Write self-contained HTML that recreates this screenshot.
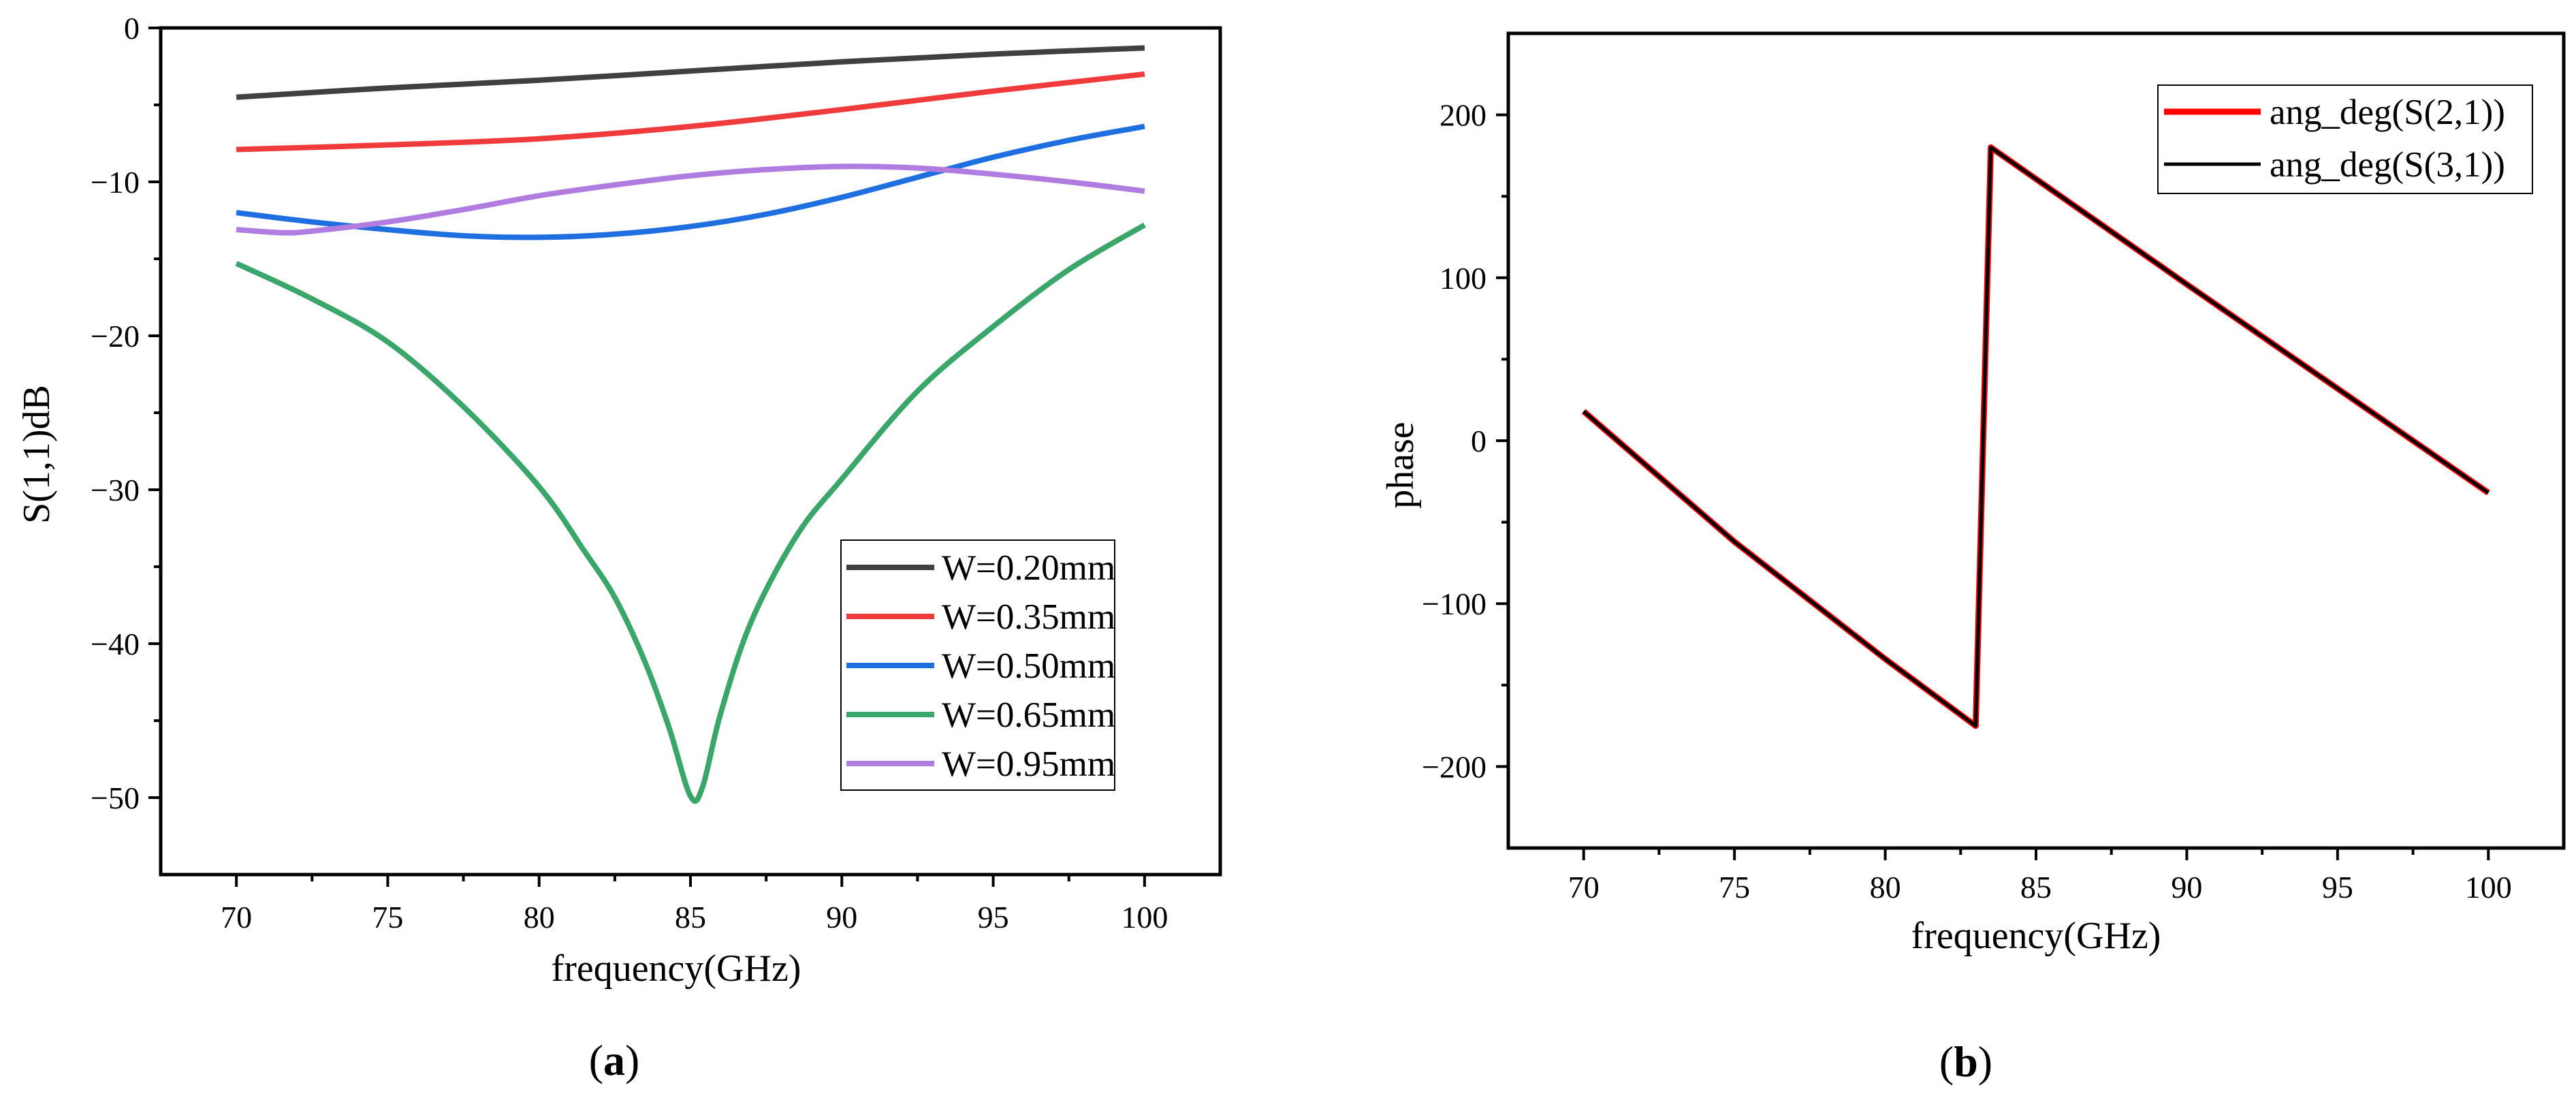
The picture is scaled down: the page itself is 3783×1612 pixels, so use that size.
<!DOCTYPE html>
<html><head><meta charset="utf-8"><style>
html,body{margin:0;padding:0;background:#fff;}
svg{display:block;font-family:"Liberation Serif",serif;}
</style></head><body>
<svg id="fig" width="3783" height="1612" viewBox="0 0 3783 1612" xmlns="http://www.w3.org/2000/svg">
<g id="chartA"></g>
<g id="chartB"></g>
<text x="902" y="1578" font-size="64" text-anchor="middle">(<tspan font-weight="bold">a</tspan>)</text>
<text x="2887" y="1580" font-size="64" text-anchor="middle">(<tspan font-weight="bold">b</tspan>)</text>
</svg>
<script>
// ---- Chart A data ----
const seriesNames = ["W=0.20mm","W=0.35mm","W=0.50mm","W=0.65mm","W=0.95mm"];
const freqW020 = [70,75,80,85,90,95,100];
const valsW020 = [-4.5,-3.9,-3.4,-2.8,-2.2,-1.7,-1.3];
const freqW035 = [70,75,80,85,90,95,100];
const valsW035 = [-7.9,-7.6,-7.2,-6.4,-5.3,-4.1,-3.0];
const freqW050 = [70,72.5,75,77.5,80,82.5,85,87.5,90,92.5,95,97.5,100];
const valsW050 = [-12.0,-12.6,-13.1,-13.5,-13.6,-13.4,-12.9,-12.1,-11.0,-9.7,-8.4,-7.3,-6.4];
const freqW065 = [70,72.5,75,77.5,80,81.5,82.5,83.5,84.3,85,85.4,86,87,88.5,90,92.5,95,97.5,100];
const valsW065 = [-15.3,-17.6,-20.4,-24.6,-29.8,-34,-37,-41.2,-45.5,-49.9,-49.3,-44.5,-38.6,-33,-29.3,-23.6,-19.4,-15.7,-12.8];
const freqW095 = [70,71.5,72.5,75,77.5,80,82.5,85,87.5,90,92.5,95,97.5,100];
const valsW095 = [-13.1,-13.3,-13.2,-12.6,-11.8,-10.9,-10.2,-9.6,-9.2,-9.0,-9.1,-9.5,-10.0,-10.6];
const xTicksA = [70,75,80,85,90,95,100];
const yTicksA = [0,-10,-20,-30,-40,-50];
const yTickLabelsA = ["0","\u221210","\u221220","\u221230","\u221240","\u221250"];
// ---- Chart B data ----
const phaseNames = ["ang_deg(S(2,1))","ang_deg(S(3,1))"];
const freqS21 = [70,75,80,83,83.5,90,95,100];
const phaseS21 = [18,-62,-134,-175,180,96,32,-32];
const freqS31 = [70,75,80,83,83.5,90,95,100];
const phaseS31 = [18,-62,-134,-175,180,96,32,-32];
const xTicksB = [70,75,80,85,90,95,100];
const yTicksB = [200,100,0,-100,-200];
const yTickLabelsB = ["200","100","0","\u2212100","\u2212200"];

const NS="http://www.w3.org/2000/svg";
function mk(parent,tag,attrs,name){const e=document.createElementNS(NS,tag);for(const k in attrs)e.setAttribute(k,attrs[k]);


parent.appendChild(e);return e;}

function axes(g,box,xr,yr,xt,xmin,yt,ylab,ymin,xtitle,ytitle,xtY,ytX){
  const sx=v=>box.l+(v-xr[0])/(xr[1]-xr[0])*(box.r-box.l);
  const sy=v=>box.t+(yr[1]-v)/(yr[1]-yr[0])*(box.b-box.t);
  mk(g,'rect',{x:box.l,y:box.t,width:box.r-box.l,height:box.b-box.t,fill:'none',stroke:'#000','stroke-width':5},'plot-frame');
  xt.forEach(v=>{mk(g,'line',{x1:sx(v),x2:sx(v),y1:box.b,y2:box.b+18,stroke:'#000','stroke-width':4},'x-tick');
    const t=mk(g,'text',{x:sx(v),y:xtY,'font-size':46,'text-anchor':'middle'},'x-tick-label');t.textContent=v;});
  xmin.forEach(v=>mk(g,'line',{x1:sx(v),x2:sx(v),y1:box.b,y2:box.b+10,stroke:'#000','stroke-width':4},'x-minor-tick'));
  yt.forEach((v,i)=>{mk(g,'line',{x1:box.l,x2:box.l-18,y1:sy(v),y2:sy(v),stroke:'#000','stroke-width':4},'y-tick');
    const t=mk(g,'text',{x:ytX,y:sy(v)+16,'font-size':46,'text-anchor':'end'},'y-tick-label');t.textContent=ylab[i];});
  ymin.forEach(v=>mk(g,'line',{x1:box.l,x2:box.l-10,y1:sy(v),y2:sy(v),stroke:'#000','stroke-width':4},'y-minor-tick'));
  const xtl=mk(g,'text',{x:xtitle.x,y:xtitle.y,'font-size':56,'text-anchor':'middle'},'x-axis-title');xtl.textContent=xtitle.t;
  const ytl=mk(g,'text',{x:0,y:0,'font-size':56,'text-anchor':'middle',transform:`translate(${ytitle.x},${ytitle.y}) rotate(-90)`},'y-axis-title');ytl.textContent=ytitle.t;
  return {sx,sy};
}
function line(g,sx,sy,xs,ys,color,w,name,smooth){
  const P=xs.map((x,i)=>[sx(x),sy(ys[i])]);
  let d='M'+P[0][0].toFixed(1)+','+P[0][1].toFixed(1);
  for(let i=1;i<P.length;i++){
    if(!smooth){d+=' L'+P[i][0].toFixed(1)+','+P[i][1].toFixed(1);continue;}
    const p0=P[Math.max(0,i-2)],p1=P[i-1],p2=P[i],p3=P[Math.min(P.length-1,i+1)];
    const k=1/6;
    const c1=[p1[0]+(p2[0]-p0[0])*k,p1[1]+(p2[1]-p0[1])*k];
    const c2=[p2[0]-(p3[0]-p1[0])*k,p2[1]-(p3[1]-p1[1])*k];
    d+=' C'+c1.map(v=>v.toFixed(1)).join(',')+' '+c2.map(v=>v.toFixed(1)).join(',')+' '+p2[0].toFixed(1)+','+p2[1].toFixed(1);
  }
  mk(g,'path',{d:d,fill:'none',stroke:color,'stroke-width':w,'stroke-linejoin':'round'},name);
}
// Chart A
const gA=document.getElementById('chartA');
const A=axes(gA,{l:236,r:1792,t:41,b:1284},[67.5,102.5],[-55,0],xTicksA,[72.5,77.5,82.5,87.5,92.5,97.5],
  yTicksA,yTickLabelsA,[-5,-15,-25,-35,-45],{x:993,y:1440,t:'frequency(GHz)'},{x:72,y:667,t:'S(1,1)dB'},1362,205);
const colorsA=['#404040','#ef3b3b','#1f6fe0','#3aa66a','#b07ce0'];
const xsA=[freqW020,freqW035,freqW050,freqW065,freqW095];
const ysA=[valsW020,valsW035,valsW050,valsW065,valsW095];
xsA.forEach((xs,i)=>line(gA,A.sx,A.sy,xs,ysA[i],colorsA[i],8,'series-'+seriesNames[i].toLowerCase().replace(/[^a-z0-9]+/g,'-'),true));
mk(gA,'rect',{x:1235,y:793,width:402,height:367,fill:'#fff',stroke:'#000','stroke-width':2},'legend-box');
seriesNames.forEach((n,i)=>{const y=833+i*72;
  mk(gA,'line',{x1:1243,x2:1372,y1:y,y2:y,stroke:colorsA[i],'stroke-width':8},'legend-swatch');
  const t=mk(gA,'text',{x:1383,y:y+18,'font-size':53},'legend-entry');t.textContent=n;});
// Chart B
const gB=document.getElementById('chartB');
const B=axes(gB,{l:2215,r:3765,t:49,b:1245},[67.5,102.5],[-250,250],xTicksB,[72.5,77.5,82.5,87.5,92.5,97.5],
  yTicksB,yTickLabelsB,[150,50,-50,-150],{x:2990,y:1392,t:'frequency(GHz)'},{x:2075,y:683,t:'phase'},1318,2183);
line(gB,B.sx,B.sy,freqS21,phaseS21,'#ff0000',9,'series-s21-phase',false);
line(gB,B.sx,B.sy,freqS31,phaseS31,'#000000',5,'series-s31-phase',false);
mk(gB,'rect',{x:3169,y:125,width:550,height:159,fill:'#fff',stroke:'#000','stroke-width':2},'legend-box');
['#ff0000','#000000'].forEach((c,i)=>{const y=164+i*77;
  mk(gB,'line',{x1:3178,x2:3320,y1:y,y2:y,stroke:c,'stroke-width':i?5:9},'legend-swatch');
  const t=mk(gB,'text',{x:3333,y:y+18,'font-size':53},'legend-entry');t.textContent=phaseNames[i];});
</script>
</body></html>
